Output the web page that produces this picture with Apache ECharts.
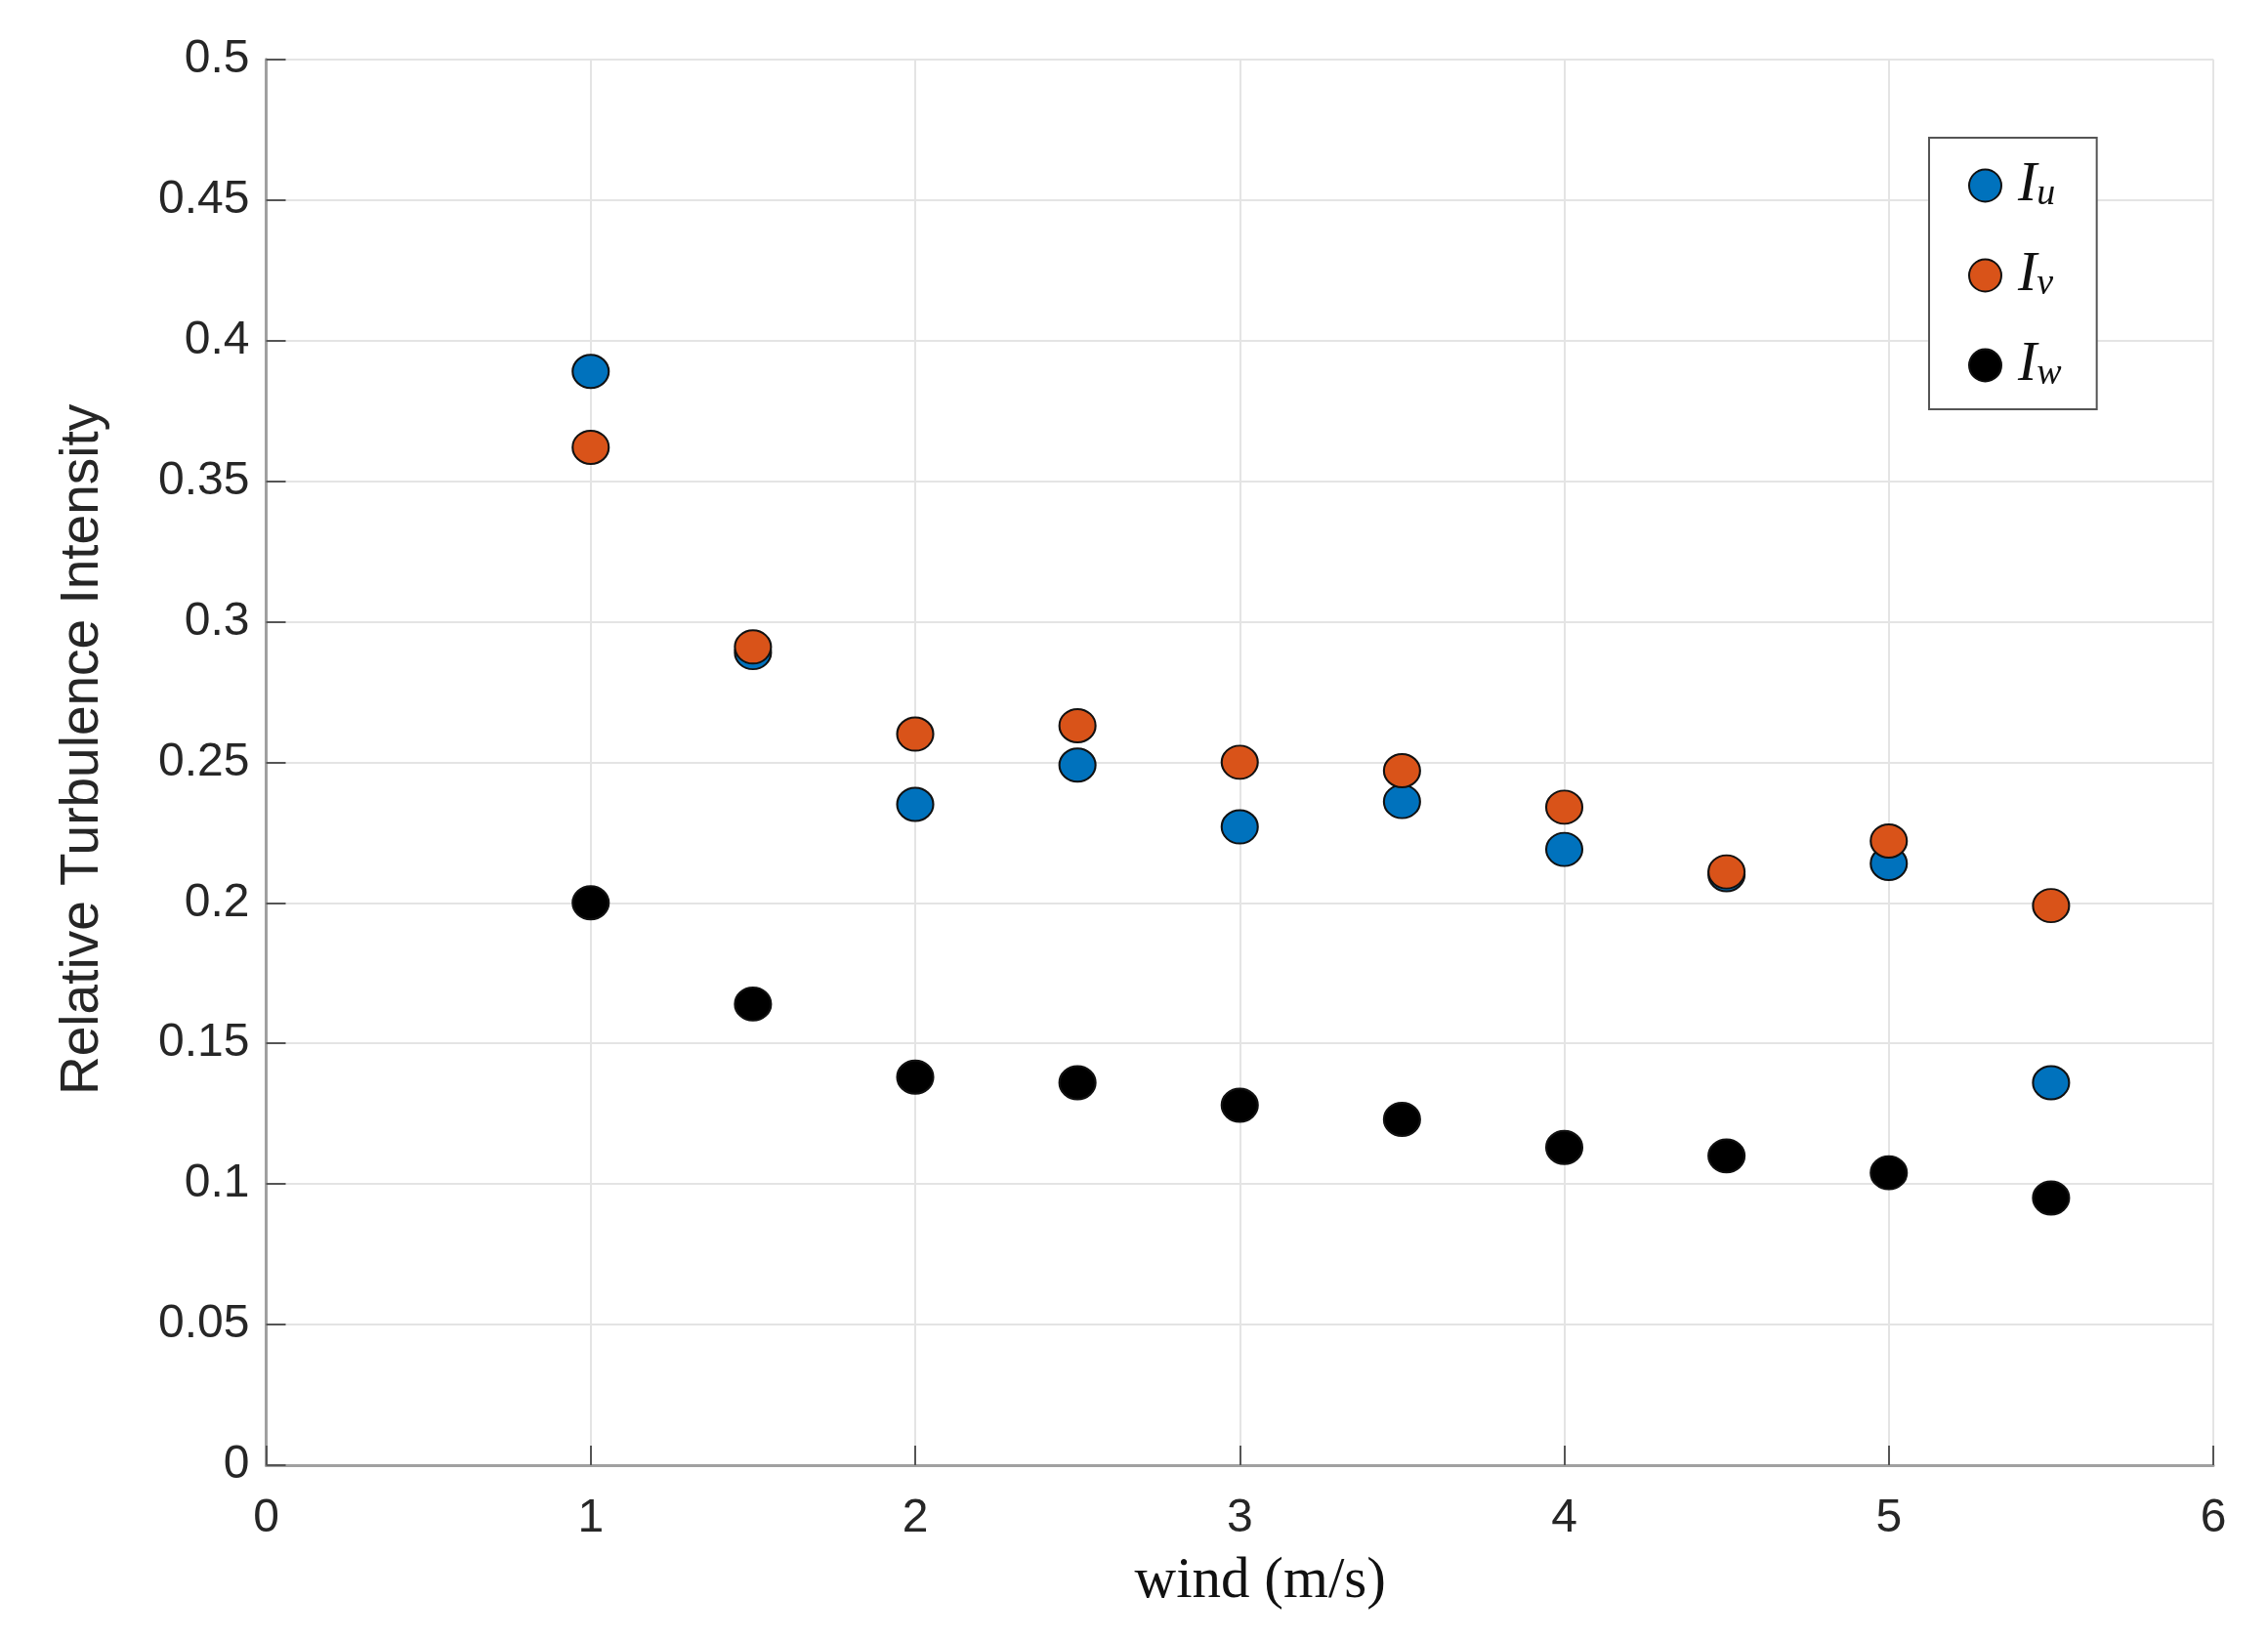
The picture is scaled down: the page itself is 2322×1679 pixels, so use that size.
<!DOCTYPE html>
<html>
<head>
<meta charset="utf-8">
<script src="https://cdn.jsdelivr.net/npm/echarts@6/dist/echarts.min.js"></script>
<style>html,body{margin:0;padding:0;background:#fff;}#c{width:2322px;height:1679px;}</style>
</head>
<body>
<div id="c"></div>
<script>
const wind = [1, 1.5, 2, 2.5, 3, 3.5, 4, 4.5, 5, 5.5];
const Iu = [0.389, 0.289, 0.235, 0.249, 0.227, 0.236, 0.219, 0.210, 0.214, 0.136];
const Iv = [0.362, 0.291, 0.260, 0.263, 0.250, 0.247, 0.234, 0.211, 0.222, 0.199];
const Iw = [0.200, 0.164, 0.138, 0.136, 0.128, 0.123, 0.113, 0.110, 0.104, 0.095];
const seriesNames = ['u', 'v', 'w'];
const xName = 'wind (m/s)';
const yName = 'Relative Turbulence Intensity';

const pair = (xs, ys) => xs.map((x, i) => [x, ys[i]]);
const colors = ['#0072BD', '#D95319', '#000000'];
const datas = [Iu, Iv, Iw];

const chart = echarts.init(document.getElementById('c'), null, {renderer: 'canvas'});
chart.setOption({
  backgroundColor: '#ffffff',
  animation: false,
  grid: {left: 272.5, right: 56, top: 60.7, bottom: 179, containLabel: false},
  legend: {
    orient: 'vertical',
    left: 1975, top: 141,
    padding: [20, 36, 16, 40],
    backgroundColor: '#fff',
    borderColor: '#555', borderWidth: 2,
    itemWidth: 37, itemHeight: 33, itemGap: 34,
    data: seriesNames.map(n => 'I' + n),
    formatter: function (name) { return '{i|I}{s|' + name.slice(1) + '}'; },
    textStyle: {
      rich: {
        i: {fontFamily: 'Liberation Serif', fontStyle: 'italic', fontSize: 58, lineHeight: 56, color: '#111', padding: [0, 0, 0, 10]},
        s: {fontFamily: 'Liberation Serif', fontStyle: 'italic', fontSize: 38, lineHeight: 46, verticalAlign: 'bottom', color: '#111'}
      }
    }
  },
  xAxis: {
    type: 'value', min: 0, max: 6, interval: 1,
    name: xName, nameLocation: 'middle', nameGap: 90,
    nameTextStyle: {fontFamily: 'Liberation Serif', fontSize: 59, color: '#111', padding: [0, 0, 0, 42]},
    axisLine: {show: true, onZero: false, lineStyle: {color: '#a0a0a0', width: 3}},
    axisTick: {show: true, inside: true, length: 20, lineStyle: {color: '#555', width: 2}},
    axisLabel: {fontFamily: 'Liberation Sans', fontSize: 48, color: '#262626', margin: 31},
    splitLine: {show: true, lineStyle: {color: '#e4e4e4', width: 2}}
  },
  yAxis: {
    type: 'value', min: 0, max: 0.5, interval: 0.05,
    name: yName, nameLocation: 'middle', nameGap: 160, nameRotate: 90,
    nameTextStyle: {fontFamily: 'Liberation Sans', fontSize: 55, color: '#262626', padding: [0, 0, 0, 26]},
    axisLine: {show: true, onZero: false, lineStyle: {color: '#a0a0a0', width: 3}},
    axisTick: {show: true, inside: true, length: 20, lineStyle: {color: '#555', width: 2}},
    axisLabel: {fontFamily: 'Liberation Sans', fontSize: 48, color: '#262626', margin: 17},
    splitLine: {show: true, lineStyle: {color: '#e4e4e4', width: 2}}
  },
  series: seriesNames.map((n, k) => ({
    name: 'I' + n,
    type: 'scatter',
    symbol: 'circle',
    symbolSize: [37, 34],
    data: pair(wind, datas[k]),
    itemStyle: {color: colors[k], borderColor: '#111', borderWidth: 2, opacity: 1}
  }))
});
</script>
</body>
</html>
